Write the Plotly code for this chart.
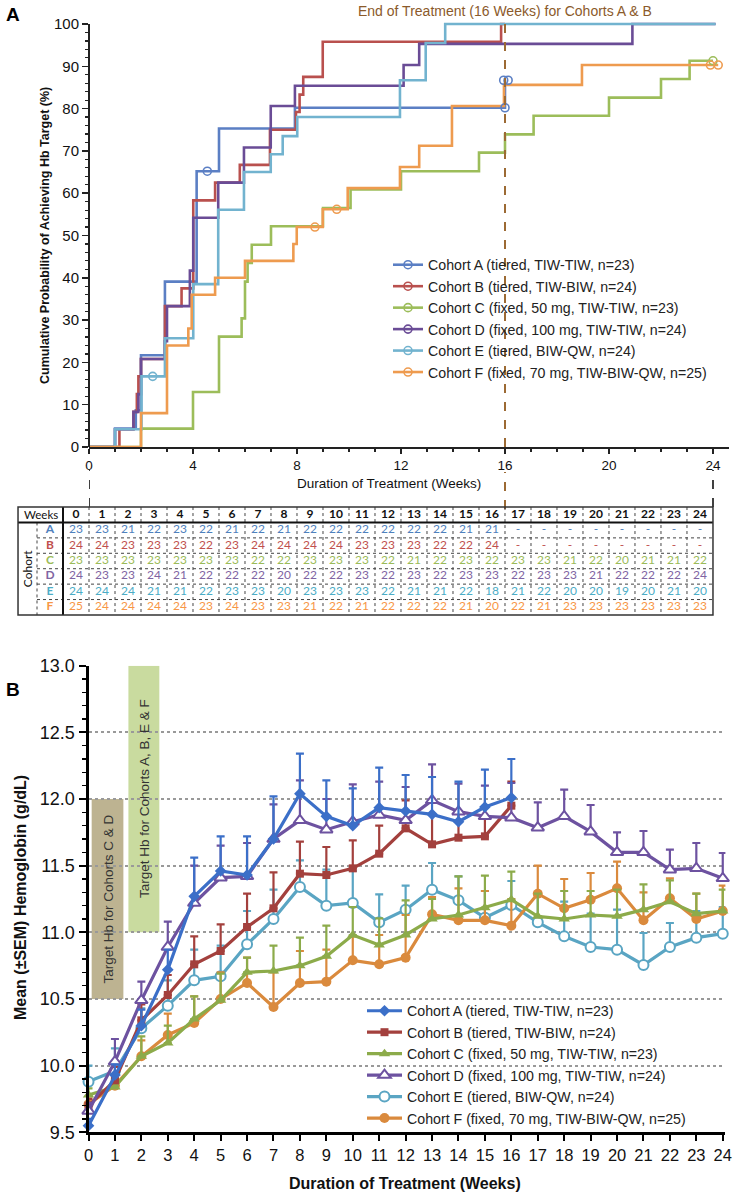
import plotly.graph_objects as go

W, H = 733, 1195
def fx(p): return p / W
def fy(p): return 1 - p / H

FONT = "Liberation Sans, Arial, sans-serif"
TFONT = "Lato, Open Sans, sans-serif"

# ---------------- Panel A data (cumulative probability, %) ----------------
names = [
    "Cohort A (tiered, TIW-TIW, n=23)",
    "Cohort B (tiered, TIW-BIW, n=24)",
    "Cohort C (fixed, 50 mg, TIW-TIW, n=23)",
    "Cohort D (fixed, 100 mg, TIW-TIW, n=24)",
    "Cohort E (tiered, BIW-QW, n=24)",
    "Cohort F (fixed, 70 mg, TIW-BIW-QW, n=25)",
]
km_colors = ["#5B7FC4", "#B9504E", "#9CBD5A", "#6A4C96", "#72B3CF", "#EE9B4F"]

kmA_t = [0, 1.0, 1.8, 2.0, 2.92, 4.14, 5.0, 7.92, 16.0]
kmA_p = [0, 4.35, 8.7, 21.7, 39.1, 65.2, 75.3, 80.2, 86.7]
kmB_t = [0, 1.17, 1.71, 1.84, 1.9, 2.0, 2.92, 3.56, 4.01, 4.85, 5.8, 6.96, 7.96, 8.1, 8.24, 8.99, 15.85, 16.0]
kmB_p = [0, 4.2, 8.3, 12.5, 16.7, 20.8, 33.3, 37.5, 58.3, 62.5, 66.7, 75.0, 79.2, 83.3, 87.5, 95.8, 100, 100]
kmC_t = [0, 2.0, 4.0, 5.0, 5.87, 6.0, 6.1, 6.26, 7.0, 9.0, 10.06, 12.0, 15.0, 16.0, 17.1, 20.0, 22.0, 23.1, 24.0]
kmC_p = [0, 4.35, 13.0, 26.1, 30.4, 39.1, 43.5, 47.8, 52.2, 56.5, 60.9, 65.2, 69.6, 73.9, 78.3, 82.6, 87.0, 91.3, 91.3]
kmD_t = [0, 1.0, 1.71, 1.9, 2.0, 2.92, 3.0, 3.88, 4.01, 4.97, 5.96, 6.99, 7.92, 12.1, 12.7, 20.9, 24.1]
kmD_p = [0, 4.2, 8.3, 12.5, 20.8, 25.0, 33.3, 41.7, 54.2, 62.5, 70.8, 80.6, 85.4, 90.3, 95.3, 100, 100]
kmE_t = [0, 1.0, 2.02, 2.92, 4.01, 4.97, 5.96, 6.99, 7.45, 8.01, 11.96, 12.95, 13.7, 24.1]
kmE_p = [0, 4.2, 16.7, 25.7, 38.5, 56.1, 65.0, 69.2, 73.5, 78.0, 86.7, 95.5, 100, 100]
kmF_t = [0, 2.0, 3.0, 3.82, 3.95, 4.85, 6.0, 7.86, 7.99, 8.99, 9.95, 11.96, 12.7, 13.96, 15.96, 18.96, 24.2]
kmF_p = [0, 8, 24, 28, 36, 40, 44, 48, 52, 56.2, 61.2, 66.2, 71.2, 80.6, 85.6, 90.3, 90.3]

# censored observations
censA_t = [4.55, 16.0, 15.95, 16.12]
censA_p = [65.2, 80.2, 86.7, 86.7]
censC_t = [24.0]
censC_p = [91.3]
censE_t = [2.45]
censE_p = [16.7]
censF_t = [8.69, 9.53, 23.9, 24.2]
censF_p = [52.0, 56.2, 90.3, 90.3]

# ---------------- Number at risk table ----------------
weeks = list(range(25))
risk_A = [23, 23, 21, 22, 23, 22, 21, 22, 21, 22, 22, 22, 22, 22, 22, 21, 21] + [None] * 8
risk_B = [24, 24, 23, 23, 23, 22, 23, 24, 24, 24, 24, 23, 23, 23, 22, 22, 24] + [None] * 8
risk_C = [23, 23, 23, 23, 23, 23, 23, 22, 22, 23, 23, 23, 22, 21, 22, 23, 22, 23, 23, 21, 22, 20, 21, 21, 22]
risk_D = [24, 23, 23, 24, 21, 22, 22, 22, 20, 22, 22, 23, 22, 23, 22, 23, 23, 22, 23, 23, 21, 22, 22, 22, 24]
risk_E = [24, 24, 24, 21, 21, 22, 23, 23, 20, 23, 23, 23, 22, 21, 21, 22, 18, 21, 22, 20, 20, 19, 20, 21, 20]
risk_F = [25, 24, 24, 24, 24, 23, 24, 23, 23, 21, 22, 21, 22, 22, 22, 21, 20, 22, 21, 23, 23, 23, 23, 23, 23]
tbl_colors = ["#4F81BD", "#C0504D", "#9BBB59", "#8064A2", "#4BACC6", "#F79646"]
letters = ["A", "B", "C", "D", "E", "F"]

# ---------------- Panel B data (mean Hb, g/dL) ----------------
hbA = [9.55, 9.93, 10.30, 10.72, 11.27, 11.46, 11.43, 11.70, 12.04, 11.87, 11.80, 11.935, 11.91, 11.885, 11.83, 11.94, 12.01]
hbB = [9.70, 9.89, 10.34, 10.53, 10.76, 10.86, 11.04, 11.18, 11.44, 11.43, 11.48, 11.59, 11.78, 11.66, 11.71, 11.72, 11.95]
hbC = [9.78, 9.84, 10.07, 10.17, 10.35, 10.49, 10.70, 10.71, 10.75, 10.82, 10.98, 10.905, 10.98, 11.10, 11.13, 11.185, 11.245, 11.12, 11.10, 11.13, 11.12, 11.17, 11.23, 11.14, 11.16]
hbD = [9.66, 10.03, 10.49, 10.89, 11.22, 11.41, 11.42, 11.70, 11.84, 11.77, 11.83, 11.88, 11.84, 11.99, 11.905, 11.87, 11.86, 11.785, 11.87, 11.755, 11.60, 11.60, 11.47, 11.48, 11.405]
hbE = [9.88, 9.96, 10.28, 10.45, 10.64, 10.67, 10.91, 11.10, 11.34, 11.20, 11.22, 11.075, 11.17, 11.32, 11.24, 11.11, 11.205, 11.075, 10.97, 10.89, 10.87, 10.755, 10.89, 10.96, 10.99]
hbF = [9.71, 9.85, 10.07, 10.23, 10.32, 10.50, 10.62, 10.44, 10.62, 10.63, 10.79, 10.76, 10.81, 11.135, 11.09, 11.09, 11.05, 11.29, 11.18, 11.245, 11.33, 11.09, 11.255, 11.10, 11.16]

semA = [0.05, 0.08, 0.12, 0.15, 0.29, 0.26, 0.29, 0.32, 0.30, 0.27, 0.28, 0.30, 0.27, 0.28, 0.30, 0.28, 0.29]
semB = [0.05, 0.10, 0.12, 0.15, 0.21, 0.20, 0.25, 0.27, 0.24, 0.21, 0.21, 0.21, 0.21, 0.22, 0.20, 0.22, 0.18]
semC = [0.05, 0.06, 0.15, 0.13, 0.17, 0.20, 0.11, 0.19, 0.21, 0.23, 0.21, 0.20, 0.26, 0.15, 0.29, 0.24, 0.21, 0.17, 0.21, 0.18, 0.20, 0.19, 0.16, 0.15, 0.16]
semD = [0.06, 0.17, 0.14, 0.19, 0.28, 0.24, 0.25, 0.26, 0.30, 0.23, 0.28, 0.25, 0.25, 0.27, 0.21, 0.23, 0.26, 0.19, 0.20, 0.20, 0.15, 0.16, 0.15, 0.19, 0.19]
semE = [0.12, 0.17, 0.15, 0.19, 0.23, 0.23, 0.25, 0.22, 0.20, 0.27, 0.24, 0.21, 0.18, 0.20, 0.18, 0.20, 0.18, 0.22, 0.26, 0.25, 0.30, 0.24, 0.18, 0.20, 0.20]
semF = [0.06, 0.08, 0.12, 0.16, 0.20, 0.20, 0.19, 0.26, 0.24, 0.24, 0.18, 0.22, 0.32, 0.13, 0.24, 0.22, 0.20, 0.21, 0.22, 0.20, 0.20, 0.21, 0.15, 0.19, 0.19]

hb_colors = ["#3B6FC8", "#A3403D", "#8CAB4A", "#6D52A0", "#5AA5C3", "#DA8A3D"]
hb_symbols = ["diamond", "square", "triangle-up", "triangle-up", "circle", "circle"]
hb_fill = ["#3B6FC8", "#A3403D", "#8CAB4A", "white", "white", "#DA8A3D"]
hb_sizes = [9, 8, 10, 11, 10, 10]

fig = go.Figure()

# ---------------- Panel A traces ----------------
km_t = [kmA_t, kmB_t, kmC_t, kmD_t, kmE_t, kmF_t]
km_p = [kmA_p, kmB_p, kmC_p, kmD_p, kmE_p, kmF_p]
for i in range(6):
    fig.add_trace(go.Scatter(x=km_t[i], y=km_p[i], mode="lines", line=dict(color=km_colors[i], width=2.6, shape="hv"),
                             xaxis="x", yaxis="y", showlegend=False, hoverinfo="skip"))
cens = [(censA_t, censA_p, 0), (censC_t, censC_p, 2), (censE_t, censE_p, 4), (censF_t, censF_p, 5)]
for ct, cp, i in cens:
    fig.add_trace(go.Scatter(x=ct, y=cp, mode="markers",
                             marker=dict(symbol="circle-open", size=8, color=km_colors[i], line=dict(width=1.6)),
                             xaxis="x", yaxis="y", showlegend=False, cliponaxis=False, hoverinfo="skip"))
for i in range(6):
    fig.add_trace(go.Scatter(x=[None], y=[None], mode="lines+markers", name=names[i],
                             line=dict(color=km_colors[i], width=2.6),
                             marker=dict(symbol="circle-open", size=8, color=km_colors[i], line=dict(width=1.6)),
                             xaxis="x", yaxis="y", legend="legend"))

# ---------------- Table ----------------
risks = [risk_A, risk_B, risk_C, risk_D, risk_E, risk_F]
col_x = [w - 0.5 for w in weeks]
fig.add_trace(go.Scatter(x=col_x, y=[0.5] * len(weeks), mode="text", text=[f"<b>{w}</b>" for w in weeks],
                         textfont=dict(family=TFONT, size=12, color="#111"), xaxis="x3", yaxis="y3",
                         showlegend=False, hoverinfo="skip"))
for r in range(6):
    fig.add_trace(go.Scatter(x=col_x, y=[r + 1.5] * len(weeks), mode="text",
                             text=[("-" if v is None else str(v)) for v in risks[r]],
                             textfont=dict(family=TFONT, size=12, color=tbl_colors[r]), xaxis="x3", yaxis="y3",
                             showlegend=False, hoverinfo="skip"))
fig.add_trace(go.Scatter(x=[-1.5] * 6, y=[r + 1.5 for r in range(6)], mode="text",
                         text=[f"<b>{l}</b>" for l in letters],
                         textfont=dict(family=TFONT, size=12, color=tbl_colors), xaxis="x3", yaxis="y3",
                         showlegend=False, hoverinfo="skip"))

# ---------------- Panel B traces ----------------
hbs = [hbA, hbB, hbC, hbD, hbE, hbF]
sems = [semA, semB, semC, semD, semE, semF]
order = [4, 5, 2, 1, 3, 0]
for i in order:
    n = len(hbs[i])
    fig.add_trace(go.Scatter(
        x=weeks[:n], y=hbs[i], mode="lines+markers", name=names[i], legend="legend2", legendrank=i,
        line=dict(color=hb_colors[i], width=3.2),
        marker=dict(symbol=hb_symbols[i], size=hb_sizes[i], color=hb_fill[i],
                    line=dict(color=hb_colors[i], width=2 if hb_fill[i] == "white" else 0)),
        error_y=dict(type="data", symmetric=False, array=sems[i], arrayminus=[0] * n,
                     color=hb_colors[i], thickness=2.2, width=4),
        xaxis="x2", yaxis="y2", cliponaxis=False, hoverinfo="skip"))

# ---------------- Shapes ----------------
shapes = []
shapes.append(dict(type="line", xref="paper", yref="y", x0=fx(89), x1=fx(89), y0=0, y1=100,
                   line=dict(color="#222", width=2)))
brown = "#9C6A34"
shapes.append(dict(type="line", xref="x", yref="paper", x0=16, x1=16, y0=fy(447), y1=fy(22),
                   line=dict(color=brown, width=2, dash="dash")))
shapes.append(dict(type="line", xref="x", yref="paper", x0=16, x1=16, y0=fy(509), y1=fy(472),
                   line=dict(color=brown, width=2, dash="dash")))
for xv in [0, 24]:
    shapes.append(dict(type="line", xref="x", yref="paper", x0=xv, x1=xv, y0=fy(507), y1=fy(470),
                       line=dict(color="#111", width=1.6, dash="dash")))
TL, TR = -2.73, 24
for w in range(0, 24):
    shapes.append(dict(type="line", xref="x3", yref="y3", x0=w, x1=w, y0=0, y1=7,
                       line=dict(color="#444", width=1, dash="dot")))
shapes.append(dict(type="line", xref="x3", yref="y3", x0=-2, x1=-2, y0=1, y1=7,
                   line=dict(color="#444", width=1, dash="dot")))
for r in range(2, 7):
    shapes.append(dict(type="line", xref="x3", yref="y3", x0=-2, x1=TR, y0=r, y1=r,
                       line=dict(color="#444", width=1, dash="dot")))
shapes.append(dict(type="line", xref="x3", yref="y3", x0=TL, x1=TR, y0=1, y1=1, line=dict(color="#111", width=2)))
shapes.append(dict(type="line", xref="x3", yref="y3", x0=-1, x1=-1, y0=0, y1=7, line=dict(color="#111", width=2)))
shapes.append(dict(type="rect", xref="x3", yref="y3", x0=TL, x1=TR, y0=0, y1=7, line=dict(color="#333", width=1.5)))
shapes.append(dict(type="rect", xref="x2", yref="y2", x0=0.12, x1=1.32, y0=10.5, y1=12.0,
                   fillcolor="#BDB391", line=dict(width=0), layer="below"))
shapes.append(dict(type="rect", xref="x2", yref="y2", x0=1.51, x1=2.68, y0=11.0, y1=13.0,
                   fillcolor="#C9DB9F", line=dict(width=0), layer="below"))

# ---------------- Annotations ----------------
def note(text, x, y, xref="paper", yref="paper", angle=0, **font):
    return dict(text=text, x=x, y=y, xref=xref, yref=yref, textangle=angle, showarrow=False,
                xanchor="center", yanchor="middle", font=font)

ann = [
    note("<b>A</b>", fx(13), fy(15), family=FONT, size=19, color="#000"),
    note("<b>B</b>", fx(13), fy(690), family=FONT, size=19, color="#000"),
    note("End of Treatment (16 Weeks) for Cohorts A &amp; B", 16, fy(11), xref="x", family=FONT, size=14, color="#8B5A2B"),
    note("<b>Cumulative Probability of Achieving Hb Target (%)</b>", fx(45), fy(236), angle=-90,
         family=FONT, size=12.5, color="#111"),
    note("Duration of Treatment (Weeks)", 11.55, fy(483), xref="x", family=FONT, size=13.5, color="#111"),
    note("<b>Duration of Treatment (Weeks)</b>", fx(405), fy(1183), family=FONT, size=16, color="#111"),
    note("<b>Mean (±SEM) Hemoglobin (g/dL)</b>", fx(20), fy(898), angle=-90, family=FONT, size=16, color="#111"),
    note("Target Hb for Cohorts C &amp; D", 0.72, 11.25, xref="x2", yref="y2", angle=-90,
         family=FONT, size=13.5, color="#333"),
    note("Target Hb for Cohorts A, B, E &amp; F", 2.1, 12.0, xref="x2", yref="y2", angle=-90,
         family=FONT, size=13.5, color="#333"),
    note("Weeks", (TL - 1) / 2, 0.5, xref="x3", yref="y3", family=TFONT, size=11.5, color="#111"),
    note("Cohort", (TL - 2) / 2, 4.0, xref="x3", yref="y3", angle=-90, family=TFONT, size=12, color="#111"),
]

# ---------------- Layout ----------------
fig.update_layout(
    width=W, height=H, margin=dict(l=0, r=0, t=0, b=0, autoexpand=False),
    paper_bgcolor="white", plot_bgcolor="white", hovermode=False,
    shapes=shapes, annotations=ann,
    xaxis=dict(domain=[fx(89), fx(728.6)], range=[0, 24.6], anchor="y", tick0=0, dtick=4, automargin=False,
               ticks="outside", ticklen=5, tickwidth=1.5, tickcolor="#222",
               showline=True, linewidth=2, linecolor="#222", showgrid=False, zeroline=False,
               tickfont=dict(family=FONT, size=13.5, color="#111"),
               minor=dict(dtick=1, ticks="outside", ticklen=3, tickwidth=1.2, tickcolor="#222", showgrid=False)),
    yaxis=dict(domain=[fy(447), fy(15.54)], range=[0, 102], anchor="x", tickmode="array", automargin=False,
               tickvals=list(range(0, 101, 10)), ticks="outside", ticklen=6, tickwidth=1.5, tickcolor="#222",
               showline=False, showgrid=False, zeroline=False, tickfont=dict(family=FONT, size=15, color="#111"),
               minor=dict(tickmode="array", tickvals=list(range(0, 101, 2)), ticks="outside", ticklen=3,
                          tickwidth=1.2, tickcolor="#222", showgrid=False)),
    xaxis2=dict(domain=[fx(88.5), fx(725.4)], range=[0, 24.1], anchor="y2", tick0=0, dtick=1, automargin=False,
                ticks="outside", ticklen=6, tickwidth=2, tickcolor="#000",
                showline=True, linewidth=3, linecolor="#000", showgrid=False, zeroline=False,
                tickfont=dict(family=FONT, size=16.5, color="#111")),
    yaxis2=dict(domain=[fy(1132.3), fy(665.7)], range=[9.5, 13.0], anchor="x2", tick0=9.5, dtick=0.5, automargin=False,
                tickformat=".1f", ticks="outside", ticklen=7, tickwidth=2, tickcolor="#000",
                showline=True, linewidth=3, linecolor="#000", showgrid=True, gridcolor="#999",
                griddash="dot", gridwidth=2, zeroline=False, tickfont=dict(family=FONT, size=18, color="#111"),
                minor=dict(dtick=0.1, ticks="outside", ticklen=4, tickwidth=1.5, tickcolor="#000", showgrid=False)),
    xaxis3=dict(domain=[fx(16.2), fx(714.8)], range=[-2.8, 24.07], anchor="y3", visible=False, automargin=False),
    yaxis3=dict(domain=[fy(616.5), fy(505.5)], range=[7.1, -0.1], anchor="x3", visible=False, automargin=False),
    legend=dict(x=fx(388), y=fy(249), xanchor="left", yanchor="top", bgcolor="rgba(0,0,0,0)",
                font=dict(family=FONT, size=14.2, color="#222"), itemwidth=30, tracegroupgap=0),
    legend2=dict(x=fx(362), y=fy(995), xanchor="left", yanchor="top", bgcolor="rgba(0,0,0,0)",
                 font=dict(family=FONT, size=14.2, color="#222"), itemwidth=35, tracegroupgap=0),
)

# remove the default 8px page margin so the figure fills the window exactly
fig.write_html("out.html", config={"displayModeBar": False, "staticPlot": True},
               post_script="document.body.style.margin='0';document.body.style.overflow='hidden';")
